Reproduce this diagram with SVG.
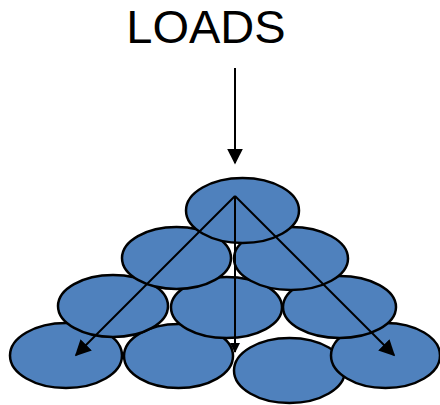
<svg xmlns="http://www.w3.org/2000/svg" width="440" height="405" viewBox="0 0 440 405">
  <style>
    .grain { fill: #4f81bd; stroke: #000; stroke-width: 2.5; }
    .arrow { stroke: #000; stroke-width: 2; fill: none; }
    .label { font-family: "Liberation Sans", Arial, sans-serif; font-size: 47px; fill: #000; }
  </style>
  <defs>
    <marker id="head" viewBox="0 0 10 10" refX="9" refY="5" markerWidth="10" markerHeight="10" markerUnits="userSpaceOnUse" orient="auto">
      <path d="M0,0 L10,5 L0,10 z" fill="#000"/>
    </marker>
    <marker id="headBig" viewBox="0 0 10 10" refX="9" refY="5" markerWidth="16" markerHeight="16" markerUnits="userSpaceOnUse" orient="auto">
      <path d="M0,0 L10,5 L0,10 z" fill="#000"/>
    </marker>
  </defs>

  <rect width="440" height="405" fill="#fff"/>

  <g id="loads-label">
    <text class="label" x="206" y="43" text-anchor="middle">LOADS</text>
  </g>

  <!-- bottom row -->
  <g id="grain-r4c3"><ellipse class="grain" cx="289.5" cy="370.5" rx="55.5" ry="32.5"/></g>
  <g id="grain-r4c1"><ellipse class="grain" cx="66" cy="355.5" rx="56" ry="32.5"/></g>
  <g id="grain-r4c2"><ellipse class="grain" cx="178.5" cy="356" rx="54.5" ry="32"/></g>
  <g id="grain-r4c4"><ellipse class="grain" cx="385.5" cy="355.5" rx="54.5" ry="32.5"/></g>

  <!-- third row -->
  <g id="grain-r3c1"><ellipse class="grain" cx="113" cy="306" rx="55" ry="31"/></g>
  <g id="grain-r3c2"><ellipse class="grain" cx="226.5" cy="307.5" rx="55.5" ry="30.5"/></g>
  <g id="grain-r3c3"><ellipse class="grain" cx="339.5" cy="307" rx="56.5" ry="31"/></g>

  <!-- second row -->
  <g id="grain-r2c1"><ellipse class="grain" cx="176.5" cy="258" rx="54.5" ry="31"/></g>
  <g id="grain-r2c2"><ellipse class="grain" cx="291" cy="258.5" rx="57" ry="31.5"/></g>

  <!-- top grain -->
  <g id="grain-top"><ellipse class="grain" cx="242.5" cy="210.5" rx="56.5" ry="32.5"/></g>

  <g id="connectors">
    <line class="arrow" x1="235" y1="68" x2="235" y2="163" marker-end="url(#headBig)"/>
    <line class="arrow" x1="235" y1="196" x2="76" y2="355" marker-end="url(#headBig)"/>
    <line class="arrow" x1="235" y1="196" x2="235" y2="352" marker-end="url(#head)"/>
    <line class="arrow" x1="235" y1="196" x2="394" y2="355" marker-end="url(#headBig)"/>
  </g>
</svg>
